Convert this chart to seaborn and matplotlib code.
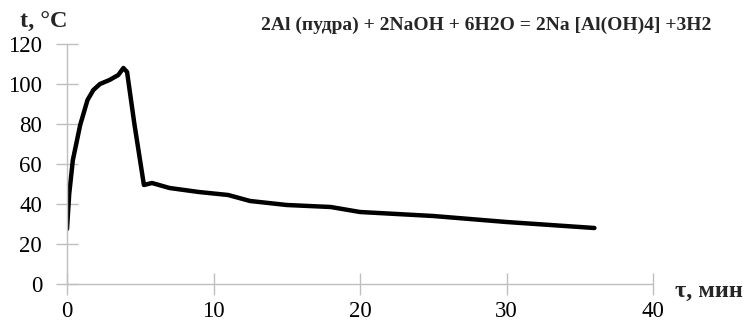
import matplotlib
matplotlib.use("Agg")
import matplotlib.pyplot as plt
import seaborn as sns
import pandas as pd

time_min = [0.0, 0.15, 0.4, 0.9, 1.4, 1.8, 2.25, 2.9, 3.5, 3.85, 4.1, 4.6, 5.25, 5.8, 7.0, 9.0, 11.0, 12.5, 15.0, 18.0, 20.0, 25.0, 30.0, 36.0]
temp_c = [27.5, 45.0, 62.0, 79.5, 92.0, 97.0, 100.0, 102.0, 104.5, 108.0, 106.0, 80.0, 49.5, 50.5, 48.0, 46.0, 44.5, 41.5, 39.5, 38.5, 36.0, 34.0, 31.0, 28.0]

x_ticks = [0, 10, 20, 30, 40]
y_ticks = [0, 20, 40, 60, 80, 100, 120]

df = pd.DataFrame({"t": time_min, "T": temp_c})

sns.set_style("white")
plt.rcParams['font.family'] = ['Liberation Serif', 'DejaVu Serif']

fig = plt.figure(figsize=(7.46, 3.21), dpi=100)
ax = fig.add_axes([67/746, 37/321, (653-67)/746, (284-44)/321])
sns.lineplot(data=df, x="t", y="T", ax=ax, color="black", linewidth=3.2,
             solid_joinstyle="round", solid_capstyle="round")

ax.set_xlim(0, 40)
ax.set_ylim(0, 120)
ax.set_xticks(x_ticks)
ax.set_yticks(y_ticks)
ax.set_xlabel("")
ax.set_ylabel("")
for s in ["top", "right"]:
    ax.spines[s].set_visible(False)
for s in ["left", "bottom"]:
    ax.spines[s].set_color("#bfbfbf")
    ax.spines[s].set_linewidth(1.0)
ax.tick_params(axis="both", direction="inout", length=16, width=1.0, color="#bfbfbf",
               labelsize=16.5, labelcolor="black", bottom=True, left=True)
ax.tick_params(axis="y", pad=10)
ax.tick_params(axis="x", pad=4)

fig.text(20/746, 1 - 22/321, "t, °C", fontsize=17.5, fontweight="bold", va="center", ha="left")
fig.text(486/746, 1 - 25/321, "2Al (пудра) + 2NaOH + 6H2O = 2Na [Al(OH)4] +3H2",
         fontsize=14, fontweight="bold", va="center", ha="center")
fig.text(709/746, 1 - 291/321, "τ, мин", fontsize=17.5, fontweight="bold", va="center", ha="center")

fig.savefig("out.png", dpi=100)
